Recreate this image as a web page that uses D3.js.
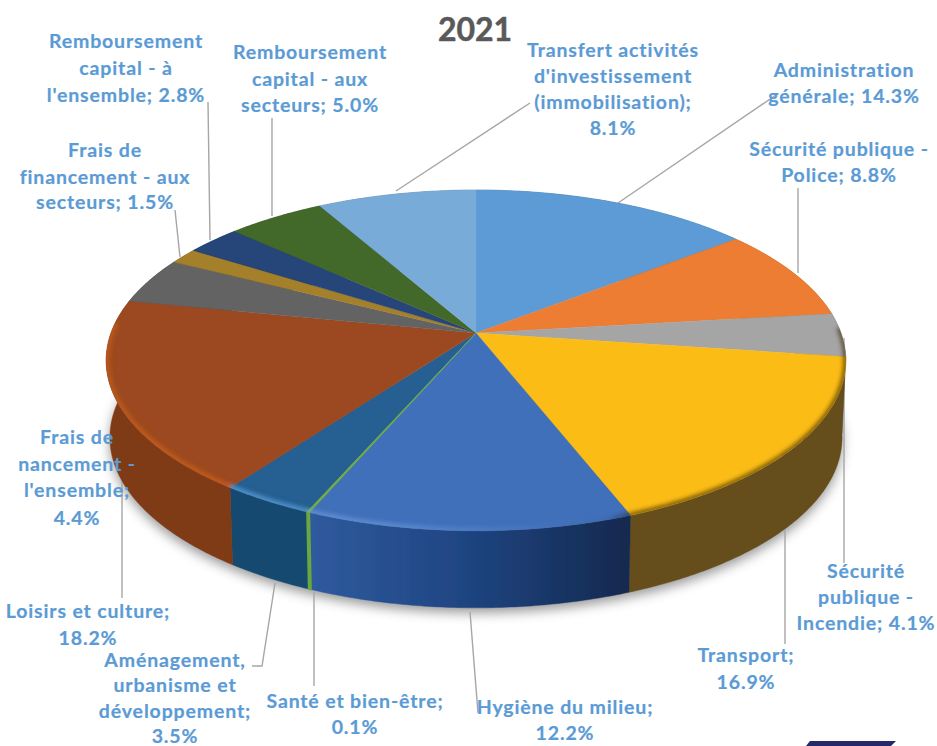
<!DOCTYPE html>
<html><head><meta charset="utf-8">
<script src="https://cdn.jsdelivr.net/npm/d3@7"></script>
<style>html,body{margin:0;background:#fff}svg{display:block}</style></head>
<body><div id="c"></div>
<script>
const categories=["Administration générale","Sécurité publique - Police","Sécurité publique - Incendie","Transport","Hygiène du milieu","Santé et bien-être","Aménagement, urbanisme et développement","Loisirs et culture","Frais de financement - à l'ensemble","Frais de financement - aux secteurs","Remboursement capital - à l'ensemble","Remboursement capital - aux secteurs","Transfert activités d'investissement (immobilisation)"];
const values=[14.3,8.8,4.1,16.9,12.2,0.1,3.5,18.2,4.4,1.5,2.8,5.0,8.1];
const topColors=["#5B9BD5","#ED7D31","#A5A5A5","#FBBC14","#416FBA","#70AD47","#255E91","#9C4A20","#636363","#A5802A","#264478","#43682B","#79ABD9"];
const wallColors=["#3F6D96","#A55722","#6F6F6F","#654D1D","url(#hyg)","#6AA83F","#14496F","#7E3A16","#444","#70591D","#1A2F54","#2F491E","#557899"];
const rimColors=[null,null,null,null,"#5F8FD0","#8CC060","#4F93CC","#C05A1C",null,null,null,null,null];
const title="2021";
const labelLines=[
 ["Administration","générale; 14.3%"],
 ["Sécurité publique -","Police; 8.8%"],
 ["Sécurité","publique -","Incendie; 4.1%"],
 ["Transport;","16.9%"],
 ["Hygiène du milieu;","12.2%"],
 ["Santé et bien-être;","0.1%"],
 ["Aménagement,","urbanisme et","développement;","3.5%"],
 ["Loisirs et culture;","18.2%"],
 ["Frais de","nancement -","l'ensemble;","4.4%"],
 ["Frais de","financement - aux","secteurs; 1.5%"],
 ["Remboursement","capital - à","l'ensemble; 2.8%"],
 ["Remboursement","capital - aux","secteurs; 5.0%"],
 ["Transfert activités","d'investissement","(immobilisation);","8.1%"]];
// label placement: centre x, then the baseline of each line
const labelPos=[[844,[77,103]],[839,[156,182]],[866,[578,604,630]],[746,[662,689]],[565,[714,740]],[355,[708,734]],[175,[667,692,718,743]],[88,[618,645]],[77,[444,471,497,525]],[105,[157,184,209]],[126,[48,75,102]],[310,[59,86,112]],[613,[57,83,109,135]]];
const leaders=[[[618,203],[776,95]],[[798,273],[798,188]],[[844,338],[844,563]],[[785,530],[785,644]],[[470,612],[478,713]],[[314,592],[314,686]],[[275,583],[262,666],[252,666]],[[122,478],[122,598]],null,[[175,210],[180,257]],[[208,102],[210,240]],[[272,118],[272,216]],[[396,191],[530,103]]];

const W=937,H=746;
const svg=d3.select("#c").append("svg").attr("width",W).attr("height",H);
const defs=svg.append("defs");
const blur=(id,s)=>defs.append("filter").attr("id",id).attr("x","-20%").attr("y","-20%").attr("width","140%").attr("height","140%").append("feGaussianBlur").attr("stdDeviation",s);
blur("b6",6);blur("b2",2);blur("soft",0.6);
const grad=(id,x1,x2,stops)=>{const g=defs.append("linearGradient").attr("id",id).attr("gradientUnits","userSpaceOnUse").attr("x1",x1).attr("x2",x2).attr("y1",0).attr("y2",0);
 stops.forEach(s=>g.append("stop").attr("offset",s[0]).attr("stop-color",s[1]).attr("stop-opacity",s[2]??1));};
grad("hyg",313,627,[[0,"#2F5A9E"],[0.5,"#1E4480"],[1,"#14294F"]]);
grad("hiMask",100,620,[[0,"#bbb"],[0.1,"#fff"],[0.55,"#ddd"],[0.8,"#444"],[1,"#000"]]);
grad("shade",480,850,[[0,"#000",0],[0.35,"#000",0.05],[0.42,"#3a2a08",0.7],[1,"#3a2a08",0.7]]);
defs.append("mask").attr("id","hm").attr("maskUnits","userSpaceOnUse").attr("x",0).attr("y",0).attr("width",W).attr("height",H)
 .append("rect").attr("width",W).attr("height",H).attr("fill","url(#hiMask)");

// perspective projection of the unit disc
const cx=476,cy=333,R=365,S=166,k=0.161,depth=77,shrink=0.99;
const rimTop=a=>{const X=Math.sin(a),Y=Math.cos(a),d=1+k*Y;return [cx+R*X/d,cy-S*Y/d];};
const rimBot=a=>{const p=rimTop(a);return [cx+(p[0]-cx)*shrink,p[1]+depth];};
const line=d3.line();
const samples=(a0,a1)=>{const n=Math.max(2,Math.ceil((a1-a0)/0.01));return d3.range(n+1).map(i=>a0+(a1-a0)*i/n);};
const arcs=d3.pie().sort(null).value(d=>d)(values);
defs.append("clipPath").attr("id","disc").append("path").attr("d",line(samples(0,2*Math.PI).map(rimTop))+"Z");

// ground shadow
svg.append("path").attr("d",line(samples(Math.PI/2-0.2,3*Math.PI/2+0.2).map(rimBot).map(p=>[p[0],p[1]+5]))+"Z").attr("fill","#777").attr("opacity",.75).attr("filter","url(#b6)");

// leader lines
svg.append("g").selectAll("path").data(leaders.filter(Boolean)).join("path").attr("d",d=>line(d)).attr("fill","none").attr("stroke","#A6A6A6").attr("stroke-width",1.4);

const pie=svg.append("g").attr("filter","url(#soft)");
// walls
const walls=pie.append("g").selectAll("path").data(arcs).join("path")
 .attr("d",d=>{const s=samples(d.startAngle,d.endAngle);return line(s.map(rimTop).concat(s.slice().reverse().map(rimBot)))+"Z";})
 .attr("fill",(d,i)=>wallColors[i]).attr("stroke",(d,i)=>wallColors[i]).attr("stroke-width",d=>d.index==5?1.6:.4);
walls.filter(d=>d.index==5).raise();
// top faces
const faces=pie.append("g").selectAll("path").data(arcs).join("path")
 .attr("d",d=>line([[cx,cy]].concat(samples(d.startAngle,d.endAngle).map(rimTop)))+"Z")
 .attr("fill",(d,i)=>topColors[i]).attr("stroke",(d,i)=>topColors[i]).attr("stroke-width",d=>d.index==5?.7:.4);
faces.filter(d=>d.index==5).raise();
// rim bevel, kept inside the top face: lighter on the left, dark on the right
const bevel=pie.append("g").attr("clip-path","url(#disc)");
bevel.append("g").attr("mask","url(#hm)").append("g").attr("filter","url(#b2)").selectAll("path").data(arcs.filter(d=>rimColors[d.index])).join("path")
 .attr("d",d=>line(samples(d.startAngle,Math.min(d.endAngle,1.52*Math.PI)).map(rimTop)))
 .attr("fill","none").attr("stroke-width",7).attr("stroke",d=>rimColors[d.index]);
bevel.append("path").attr("d",line(samples(Math.PI*0.49,Math.PI).map(rimTop))).attr("fill","none").attr("stroke","url(#shade)").attr("stroke-width",5).attr("filter","url(#b2)");

// title, labels
svg.append("text").attr("x",475).attr("y",41).attr("text-anchor","middle").attr("font-family","Lato").attr("font-weight",700).attr("font-size",32).attr("fill","#595959").attr("stroke","#595959").attr("stroke-width",.5).text(title);
const lab=svg.append("g").attr("font-family","Lato").attr("font-weight",700).attr("font-size",19.5).attr("fill","#5B9BD5").attr("stroke","#5B9BD5").attr("stroke-width",.2).attr("text-anchor","middle").attr("letter-spacing",.85);
labelLines.forEach((ls,i)=>{ls.forEach((t,j)=>lab.append("text").attr("x",labelPos[i][0]).attr("y",labelPos[i][1][j]).text(t));});
// navy shape cut by the bottom edge
svg.append("path").attr("d",line([[806,746],[810,741],[896,741],[891,746]])+"Z").attr("fill","#24296B");
</script></body></html>
